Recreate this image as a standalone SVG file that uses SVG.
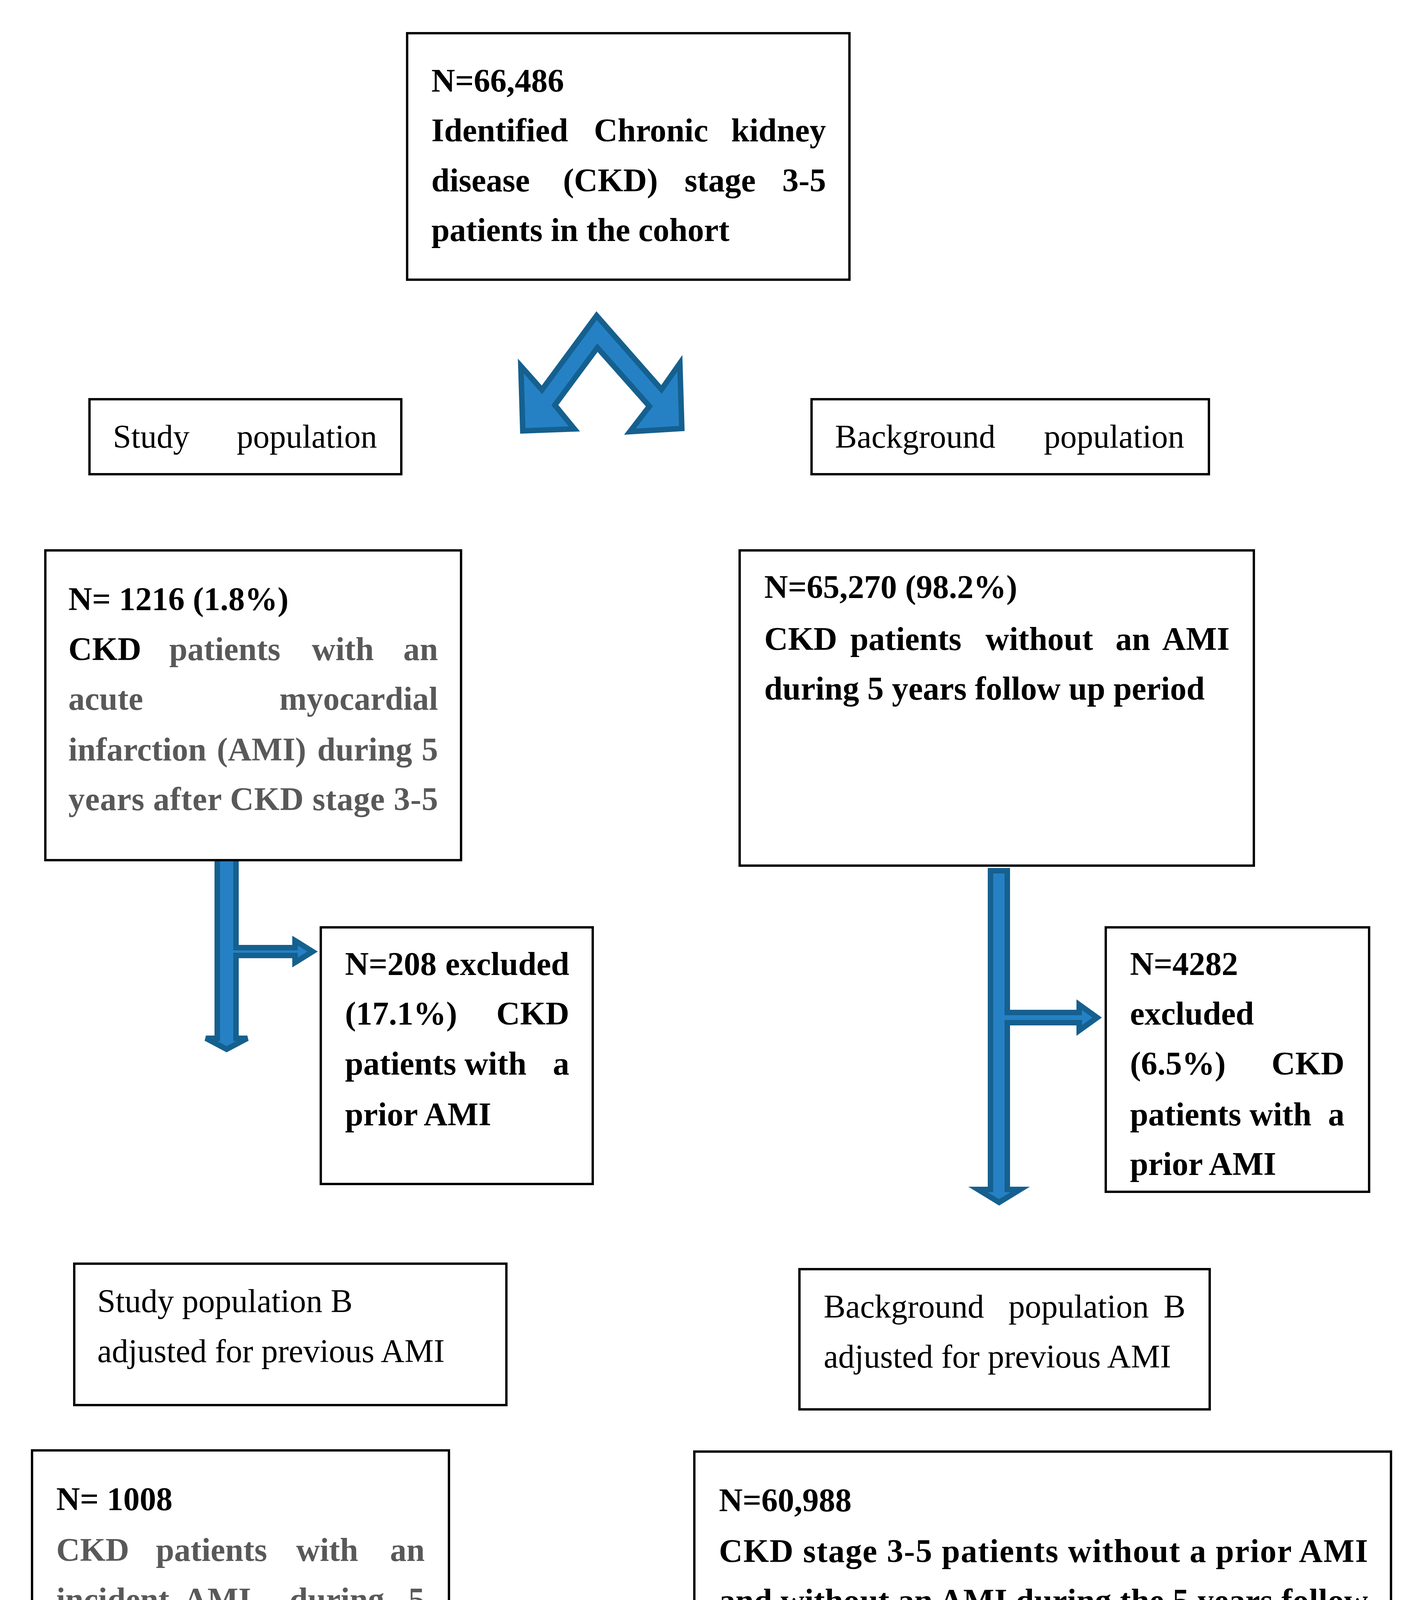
<svg xmlns="http://www.w3.org/2000/svg" width="3624" height="4416" viewBox="0 0 3624 4416">
<style>
.box{fill:#fff;stroke:#000;stroke-width:6}
.t{font-family:"Liberation Serif","DejaVu Serif",serif;font-size:84px;fill:#000}
.b{font-weight:bold}
.g{fill:#595959}
.arr{fill:#2581c4;stroke:#15608f;stroke-width:14;stroke-linejoin:miter}
</style>
<rect width="3624" height="4416" fill="#fff"/>
<g id="connectors">
<polygon class="arr" points="1527,808 1693,997 1740,930 1745,1097 1612,1105 1662,1040 1529,890 1420,1037 1470,1098 1338,1103 1333,937 1387,998"/>
<polygon class="arr" points="556,2195 604,2195 604,2426 755,2426 755,2408 800,2436 755,2464 755,2446 604,2446 604,2658 633,2658 580,2686 527,2658 556,2658"/>
<polygon class="arr" points="2535,2229 2578,2229 2578,2592 2762,2592 2762,2572 2808,2605 2762,2638 2762,2618 2578,2618 2578,3045 2611,3045 2557,3078 2503,3045 2535,3045"/>
</g>
<g id="n1"><rect class="box" x="1042" y="85" width="1132" height="631"/>
<text class="t b" x="1104" y="235">N=66,486</text>
<text class="t b" x="1104" y="362">Identified</text><text class="t b" x="1520" y="362">Chronic</text><text class="t b" x="2114" y="362" text-anchor="end">kidney</text>
<text class="t b" x="1104" y="490">disease</text><text class="t b" x="1441" y="490">(CKD)</text><text class="t b" x="1752" y="490">stage</text><text class="t b" x="2114" y="490" text-anchor="end">3-5</text>
<text class="t b" x="1104" y="617">patients in the cohort</text></g>
<g id="n2"><rect class="box" x="229" y="1022" width="798" height="192"/>
<text class="t" x="289" y="1146">Study</text><text class="t" x="965" y="1146" text-anchor="end">population</text></g>
<g id="n3"><rect class="box" x="2077" y="1022" width="1017" height="192"/>
<text class="t" x="2137" y="1146">Background</text><text class="t" x="3031" y="1146" text-anchor="end">population</text></g>
<g id="n4"><rect class="box" x="116" y="1409" width="1064" height="793"/>
<text class="t b" x="175" y="1562">N= 1216 (1.8%)</text>
<text class="t b" x="175" y="1690">CKD</text><text class="t b g" x="433" y="1690">patients</text><text class="t b g" x="798" y="1690">with</text><text class="t b g" x="1121" y="1690" text-anchor="end">an</text>
<text class="t b g" x="175" y="1817">acute</text><text class="t b g" x="1121" y="1817" text-anchor="end">myocardial</text>
<text class="t b g" x="175" y="1947">infarction</text><text class="t b g" x="555" y="1947">(AMI)</text><text class="t b g" x="812" y="1947">during</text><text class="t b g" x="1121" y="1947" text-anchor="end">5</text>
<text class="t b g" x="175" y="2074" textLength="946" lengthAdjust="spacing">years after CKD stage 3-5</text></g>
<g id="n5"><rect class="box" x="1893" y="1409" width="1316" height="807"/>
<text class="t b" x="1956" y="1531">N=65,270 (98.2%)</text>
<text class="t b" x="1956" y="1664">CKD</text><text class="t b" x="2176" y="1664">patients</text><text class="t b" x="2522" y="1664">without</text><text class="t b" x="2855" y="1664">an</text><text class="t b" x="3147" y="1664" text-anchor="end">AMI</text>
<text class="t b" x="1956" y="1791">during 5 years follow up period</text></g>
<g id="n6"><rect class="box" x="821" y="2374" width="696" height="657"/>
<text class="t b" x="883" y="2496">N=208</text><text class="t b" x="1457" y="2496" text-anchor="end">excluded</text>
<text class="t b" x="883" y="2623">(17.1%)</text><text class="t b" x="1457" y="2623" text-anchor="end">CKD</text>
<text class="t b" x="883" y="2751">patients with</text><text class="t b" x="1457" y="2751" text-anchor="end">a</text>
<text class="t b" x="883" y="2881">prior AMI</text></g>
<g id="n7"><rect class="box" x="2830" y="2374" width="674" height="677"/>
<text class="t b" x="2892" y="2496">N=4282</text>
<text class="t b" x="2892" y="2623">excluded</text>
<text class="t b" x="2892" y="2751">(6.5%)</text><text class="t b" x="3441" y="2751" text-anchor="end">CKD</text>
<text class="t b" x="2892" y="2881">patients with</text><text class="t b" x="3441" y="2881" text-anchor="end">a</text>
<text class="t b" x="2892" y="3008">prior AMI</text></g>
<g id="n8"><rect class="box" x="190" y="3235" width="1106" height="362"/>
<text class="t" x="249" y="3359">Study population B</text>
<text class="t" x="249" y="3487">adjusted for previous AMI</text></g>
<g id="n9"><rect class="box" x="2046" y="3249" width="1050" height="359"/>
<text class="t" x="2108" y="3373">Background</text><text class="t" x="2581" y="3373">population</text><text class="t" x="3034" y="3373" text-anchor="end">B</text>
<text class="t" x="2108" y="3501">adjusted for previous AMI</text></g>
<g id="n10"><rect class="box" x="82" y="3713" width="1067" height="643"/>
<text class="t b" x="144" y="3866">N= 1008</text>
<text class="t b g" x="144" y="3996">CKD</text><text class="t b g" x="399" y="3996">patients</text><text class="t b g" x="758" y="3996">with</text><text class="t b g" x="1087" y="3996" text-anchor="end">an</text>
<text class="t b g" x="144" y="4123">incident</text><text class="t b g" x="470" y="4123">AMI</text><text class="t b g" x="741" y="4123">during</text><text class="t b g" x="1087" y="4123" text-anchor="end">5</text>
<text class="t b g" x="144" y="4251" textLength="943" lengthAdjust="spacing">years after CKD stage 3-5</text></g>
<g id="n11"><rect class="box" x="1777" y="3716" width="1783" height="651"/>
<text class="t b" x="1840" y="3869">N=60,988</text>
<text class="t b" x="1840" y="3999" textLength="1661" lengthAdjust="spacing">CKD stage 3-5 patients without a prior AMI</text>
<text class="t b" x="1840" y="4126" textLength="1661" lengthAdjust="spacing">and without an AMI during the 5 years follow</text>
<text class="t b" x="1840" y="4254">up period</text></g>
</svg>
